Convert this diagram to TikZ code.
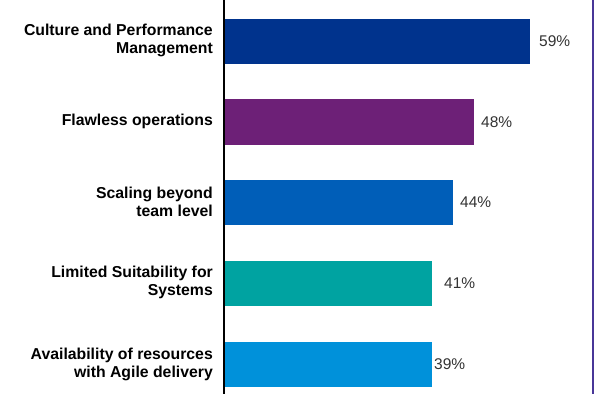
\documentclass[tikz,border=0pt]{standalone}
\usepackage{fontspec}
\setmainfont{Liberation Sans}
\definecolor{barblue}{HTML}{00338D}
\definecolor{barpurple}{HTML}{6D2077}
\definecolor{barmid}{HTML}{005EB8}
\definecolor{barteal}{HTML}{00A3A1}
\definecolor{barlight}{HTML}{0091DA}
\definecolor{edgeviolet}{HTML}{483698}
\tikzset{
  cat/.style={anchor=east, align=right, inner sep=0pt, font=\bfseries\fontsize{15.8}{18}\selectfont},
  val/.style={anchor=west, inner sep=0pt, text=black!80, font=\fontsize{15.5}{17}\selectfont}
}
\begin{document}
\begin{tikzpicture}[x=1pt,y=-1pt]
    \useasboundingbox (0,0) rectangle (594,394);
    % Axes
    \draw[line width=1.6pt] (224,0) -- (224,394);
    \draw[edgeviolet, line width=1.2pt] (593,0) -- (593,394);

    % Bars
    \fill[barblue] (225,19) rectangle (530,64);
    \node[cat] (c1) at (213,40) {Culture and Performance\\Management};
    \node[val] (v1) at (539,41) {59\%};

    \fill[barpurple] (225,99) rectangle (474,145);
    \node[cat] (c2) at (213,121) {Flawless operations};
    \node[val] (v2) at (481,122) {48\%};

    \fill[barmid] (225,180) rectangle (453,225);
    \node[cat] (c3) at (213,202) {Scaling beyond\\team level};
    \node[val] (v3) at (460,202) {44\%};

    \fill[barteal] (225,261) rectangle (432,306);
    \node[cat] (c4) at (213,282) {Limited Suitability for\\Systems};
    \node[val] (v4) at (444,283) {41\%};

    \fill[barlight] (225,342) rectangle (432,387);
    \node[cat] (c5) at (213,364) {Availability of resources\\with Agile delivery};
    \node[val] (v5) at (434,364) {39\%};
\end{tikzpicture}
\end{document}
